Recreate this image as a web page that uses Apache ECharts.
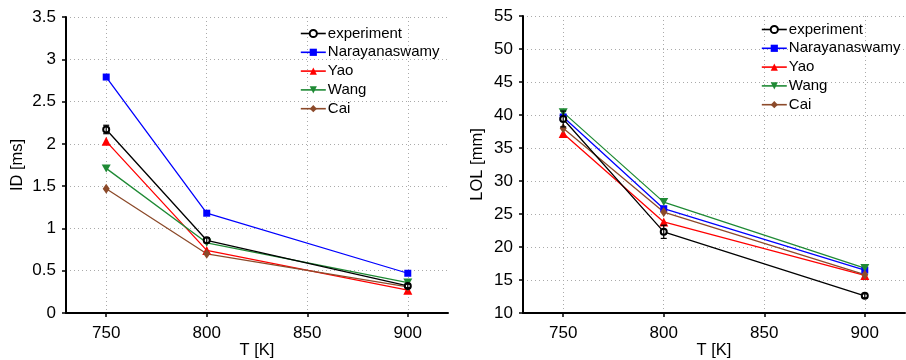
<!DOCTYPE html>
<html>
<head>
<meta charset="utf-8">
<script src="https://cdn.jsdelivr.net/npm/echarts@6/dist/echarts.min.js"></script>
<style>html,body{margin:0;padding:0;background:#fff;}#c{width:906px;height:360px;}</style>
</head>
<body>
<div id="c"></div>
<script>
// ---- data ----
const temps = [750, 800, 900];
const xTicks = [750, 800, 850, 900];
const seriesNames = ['experiment', 'Narayanaswamy', 'Yao', 'Wang', 'Cai'];

const idExp = [2.17, 0.86, 0.32];
const idExpErr = [0.05, 0.03, 0.02];
const idNar = [2.79, 1.18, 0.47];
const idYao = [2.03, 0.74, 0.27];
const idWang = [1.71, 0.83, 0.36];
const idCai = [1.47, 0.70, 0.31];

const lolExp = [39.4, 22.3, 12.6];
const lolExpErr = [1.2, 1.0, 0.3];
const lolNar = [39.7, 25.8, 16.5];
const lolYao = [37.2, 23.8, 15.7];
const lolWang = [40.4, 26.8, 16.8];
const lolCai = [38.0, 25.3, 15.8];

// ---- styles ----
const colors = ['#000000', '#0000ff', '#ff0000', '#1f8a35', '#8c4a2a'];
const symbols = ['emptyCircle', 'rect', 'triangle', 'path://M0,0 L10,0 L5,9 Z', 'diamond'];
const symSizes = [6, 7, 9, [9, 8], [7, 10]];
const FONT = 'Liberation Sans';

function pairs(vals) { return temps.map((t, i) => [t, vals[i]]); }

function lineSeries(idx, vals, gi) {
  return {
    type: 'line', name: seriesNames[idx], xAxisIndex: gi, yAxisIndex: gi,
    data: pairs(vals), symbol: symbols[idx], symbolSize: symSizes[idx],
    showAllSymbol: true, z: 3 + (idx === 0 ? 5 : 0),
    lineStyle: { color: colors[idx], width: 1.3 },
    itemStyle: { color: colors[idx], borderColor: colors[idx], borderWidth: idx === 0 ? 1.2 : 0 },
    animation: false
  };
}

function errSeries(vals, errs, gi) {
  return {
    type: 'custom', xAxisIndex: gi, yAxisIndex: gi, silent: true, z: 9,
    data: temps.map((t, i) => [t, vals[i] - errs[i], vals[i] + errs[i]]),
    renderItem: function (params, api) {
      const lo = api.coord([api.value(0), api.value(1)]);
      const hi = api.coord([api.value(0), api.value(2)]);
      const w = 3;
      const st = { stroke: '#000', lineWidth: 1.2 };
      return { type: 'group', children: [
        { type: 'line', shape: { x1: lo[0], y1: lo[1], x2: hi[0], y2: hi[1] }, style: st },
        { type: 'line', shape: { x1: lo[0] - w, y1: lo[1], x2: lo[0] + w, y2: lo[1] }, style: st },
        { type: 'line', shape: { x1: hi[0] - w, y1: hi[1], x2: hi[0] + w, y2: hi[1] }, style: st }
      ]};
    },
    animation: false
  };
}

const gridLine = { show: true, lineStyle: { color: '#aaaaaa', type: [1, 3], width: 1 } };
const axisLineStyle = { show: true, onZero: false, lineStyle: { color: '#000', width: 2 } };

function xAxis(gi) {
  return {
    type: 'value', gridIndex: gi, min: 730, max: 920,
    name: 'T [K]', nameLocation: 'middle', nameGap: 29, nameMoveOverlap: false,
    nameTextStyle: { fontFamily: FONT, fontSize: 16.5, color: '#000' },
    axisLine: axisLineStyle,
    axisTick: { show: true, inside: false, length: 4, customValues: xTicks, lineStyle: { color: '#000', width: 1.5 } },
    axisLabel: { customValues: xTicks, fontFamily: FONT, fontSize: 17, color: '#000', margin: 12 },
    splitLine: gridLine
  };
}

function yAxis(gi, min, max, interval, name, gap) {
  return {
    type: 'value', gridIndex: gi, min: min, max: max, interval: interval,
    name: name, nameLocation: 'middle', nameGap: gap, nameMoveOverlap: false,
    nameTextStyle: { fontFamily: FONT, fontSize: 16.5, color: '#000' },
    axisLine: axisLineStyle,
    axisTick: { show: true, inside: false, length: 4, lineStyle: { color: '#000', width: 1.5 } },
    axisLabel: { fontFamily: FONT, fontSize: 17, color: '#000', margin: 10 },
    splitLine: gridLine
  };
}

function legend(left, top) {
  return {
    left: left, top: top, orient: 'vertical', data: seriesNames, padding: 0,
    itemWidth: 25, itemHeight: 9, itemGap: 3.8,
    lineStyle: { width: 1.6 },
    textStyle: { fontFamily: FONT, fontSize: 15, color: '#000', padding: [0, 0, 0, -3] },
    backgroundColor: 'rgba(255,255,255,0)', selectedMode: false
  };
}

const option = {
  animation: false,
  backgroundColor: '#fff',
  grid: [
    { left: 66, top: 17, width: 382, height: 296, containLabel: false, outerBoundsMode: 'none' },
    { left: 523, top: 16, width: 382, height: 297, containLabel: false, outerBoundsMode: 'none' }
  ],
  xAxis: [xAxis(0), xAxis(1)],
  yAxis: [yAxis(0, 0, 3.5, 0.5, 'ID [ms]', 40), yAxis(1, 10, 55, 5, 'LOL [mm]', 37)],
  legend: [legend(300, 26), legend(761, 22)],
  series: [
    lineSeries(0, idExp, 0), lineSeries(1, idNar, 0), lineSeries(2, idYao, 0),
    lineSeries(3, idWang, 0), lineSeries(4, idCai, 0), errSeries(idExp, idExpErr, 0),
    lineSeries(0, lolExp, 1), lineSeries(1, lolNar, 1), lineSeries(2, lolYao, 1),
    lineSeries(3, lolWang, 1), lineSeries(4, lolCai, 1), errSeries(lolExp, lolExpErr, 1)
  ]
};

const chart = echarts.init(document.getElementById('c'), null, { renderer: 'canvas' });
chart.setOption(option);
</script>
</body>
</html>
